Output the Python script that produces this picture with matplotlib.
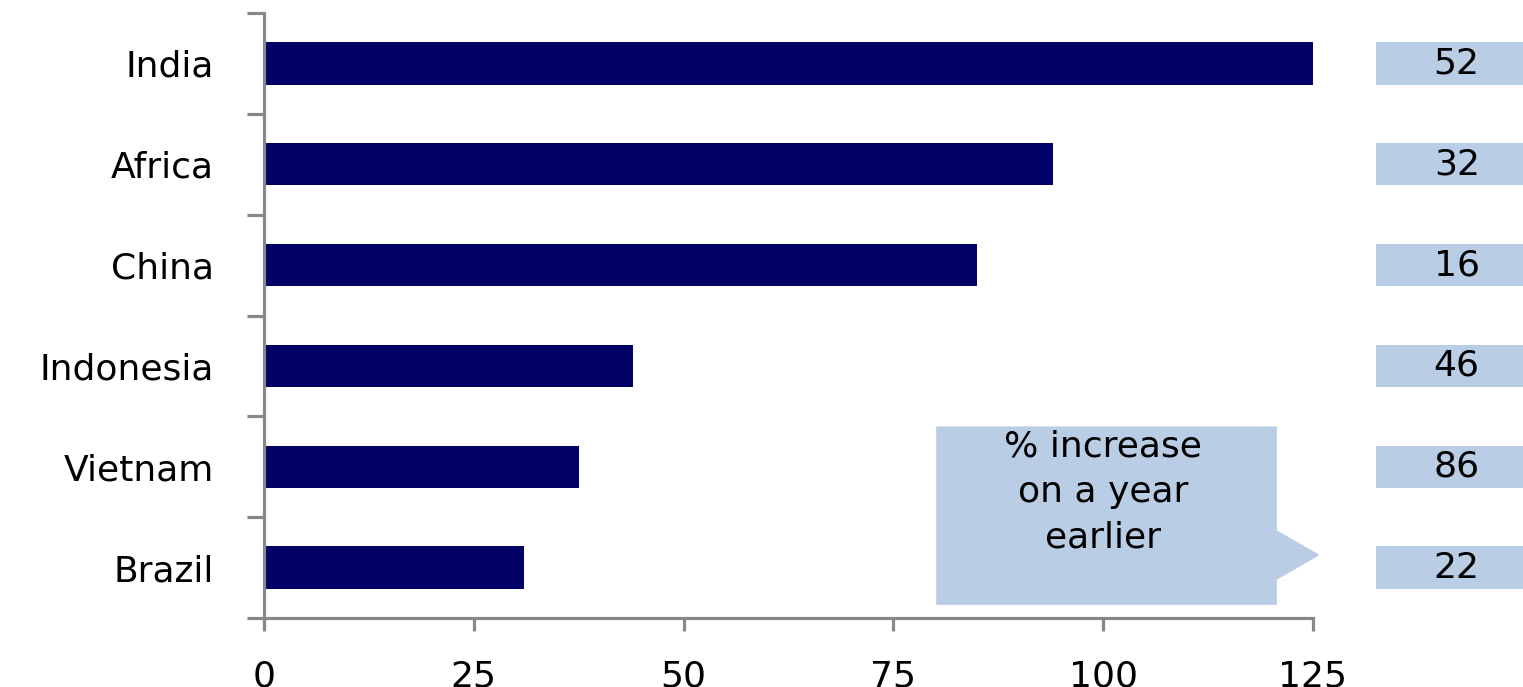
import numpy as np
import matplotlib.pyplot as plt
from matplotlib.patches import Polygon, Rectangle
import matplotlib.transforms as mtransforms

# data
countries = ["India", "Africa", "China", "Indonesia", "Vietnam", "Brazil"]
values = [125, 94, 85, 44, 37.5, 31]
pct_increase = [52, 32, 16, 46, 86, 22]
xticks = [0, 25, 50, 75, 100, 125]

navy = "#000066"
pale = "#b9cde5"
grey = "#888888"
fs = 26

fig = plt.figure(figsize=(15.23, 6.87), dpi=100)
ax = fig.add_axes([0.1733, 0.1004, 0.6888, 0.8806])

y = np.arange(len(countries))
ax.barh(y, values, height=0.42, color=navy)
ax.set_xlim(0, 125)
ax.set_ylim(len(countries) - 0.5, -0.5)

# axes styling
for s in ["top", "right"]:
    ax.spines[s].set_visible(False)
for s in ["left", "bottom"]:
    ax.spines[s].set_color(grey)
    ax.spines[s].set_linewidth(2.3)

ax.set_xticks(xticks)
ax.set_xticklabels([str(t) for t in xticks], fontsize=fs)
ax.tick_params(axis="x", length=9, width=2.3, color=grey, pad=21)

ax.set_yticks(y)
ax.set_yticklabels(countries, fontsize=fs)
ax.tick_params(axis="y", which="major", length=0, pad=36)
ax.set_yticks(np.arange(len(countries) + 1) - 0.5, minor=True)
ax.tick_params(axis="y", which="minor", length=12, width=2.3, color=grey)

# % increase boxes on the right
trans = mtransforms.blended_transform_factory(ax.transAxes, ax.transData)
for yi, p in zip(y, pct_increase):
    ax.add_patch(Rectangle((1.06, yi - 0.21), 0.2, 0.42, transform=trans,
                           facecolor=pale, edgecolor="none", clip_on=False))
    ax.text(1.137, yi, str(p), transform=trans, ha="center", va="center",
            fontsize=fs, color="black", clip_on=False)

# callout box with pointer
callout = Polygon([(80.1, 3.6), (120.7, 3.6), (120.7, 4.63), (125.8, 4.875),
                   (120.7, 5.12), (120.7, 5.37), (80.1, 5.37)],
                  closed=True, facecolor=pale, edgecolor="none", clip_on=False, zorder=3)
ax.add_patch(callout)
ax.text(100, 4.25, "% increase\non a year\nearlier", ha="center", va="center",
        fontsize=fs, linespacing=1.42, zorder=4)

fig.savefig("out.png", dpi=100)
